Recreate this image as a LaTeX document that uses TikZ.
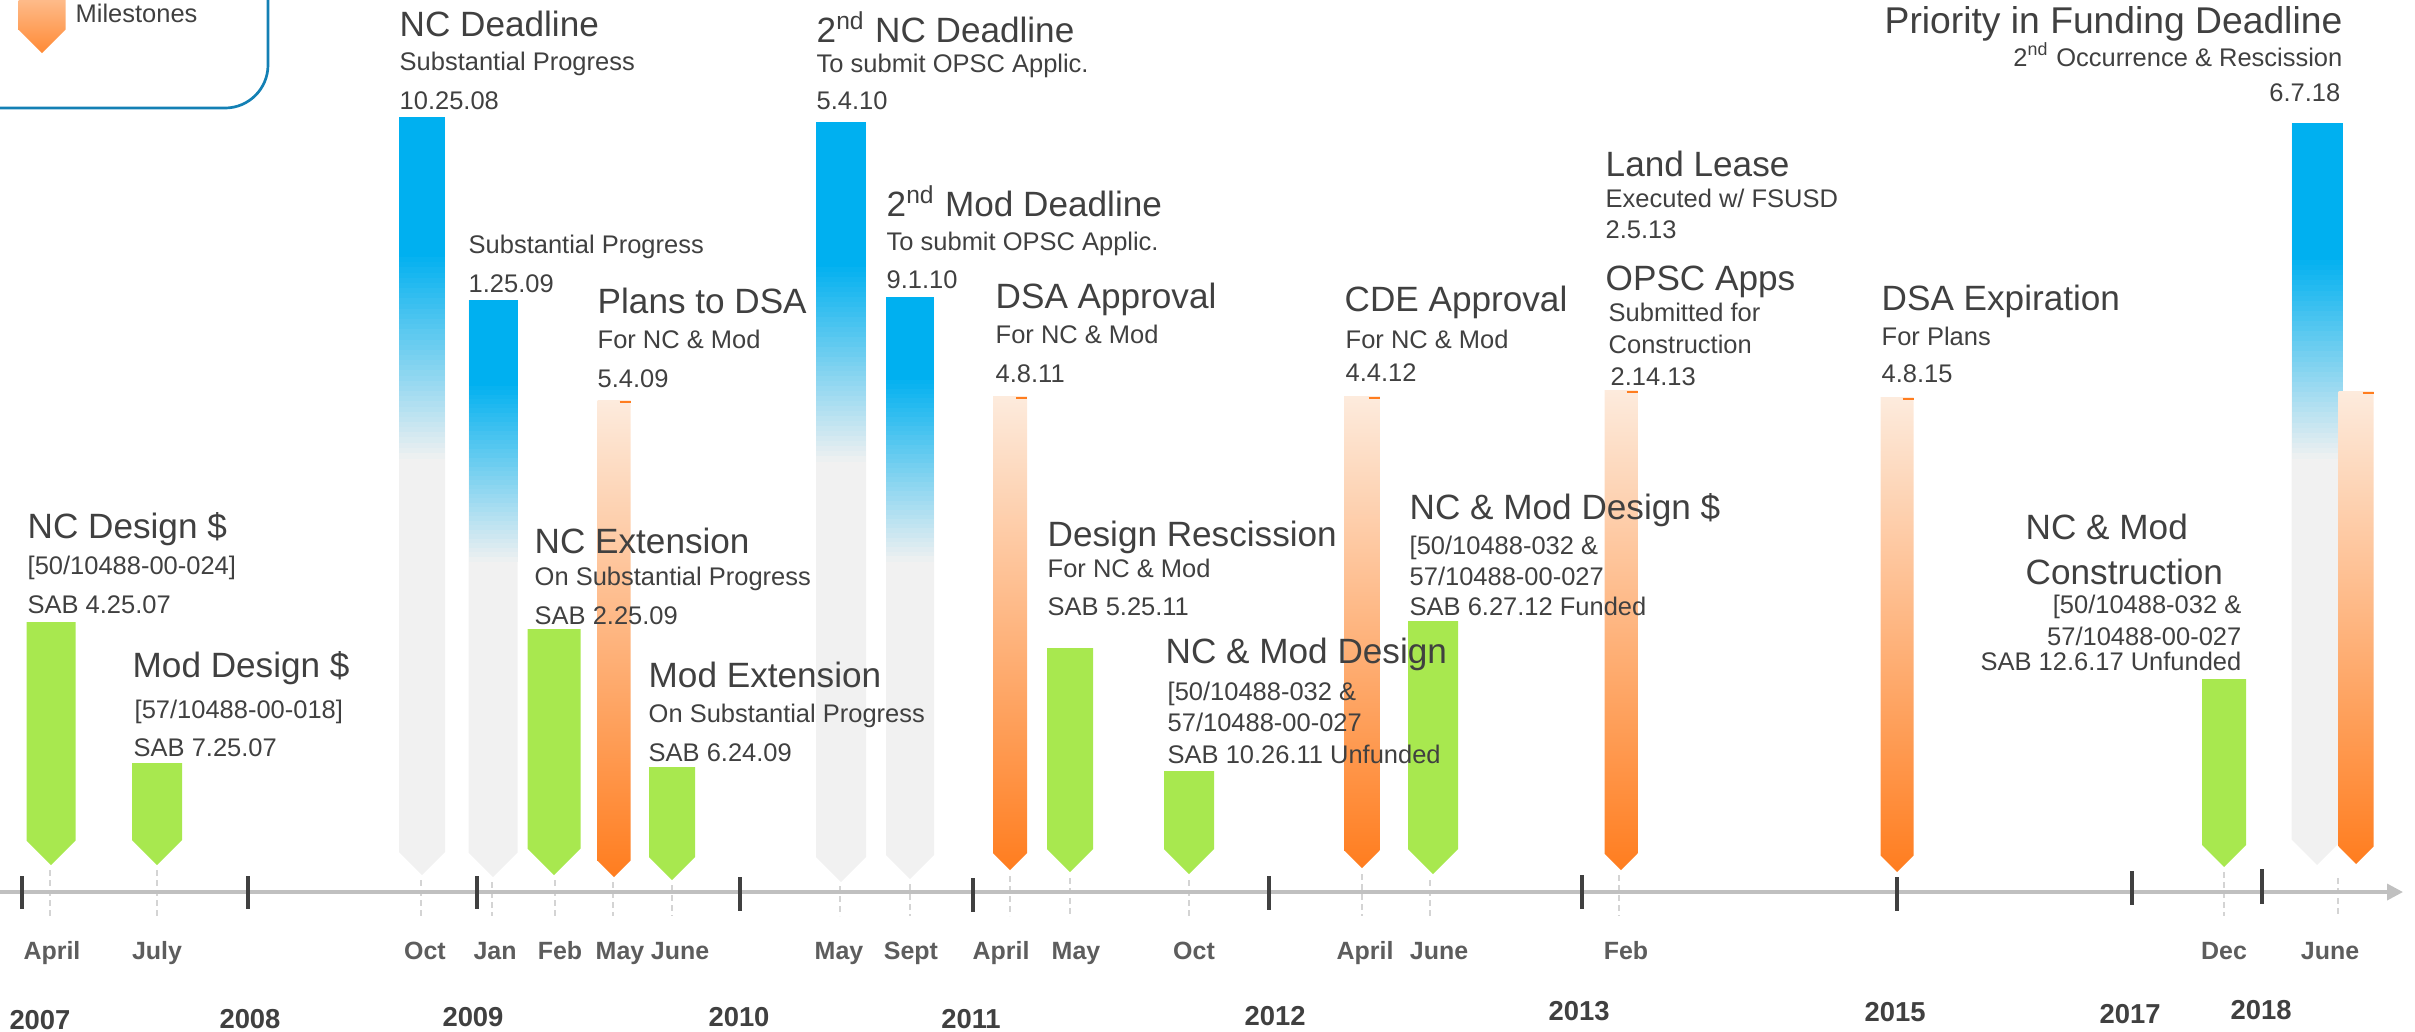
\documentclass[tikz,border=0pt]{standalone}
\usepackage{fontspec}
\setmainfont{Liberation Sans}
\usetikzlibrary{arrows.meta}

\definecolor{txt}{HTML}{404040}
\definecolor{mgreen}{HTML}{A8E84F}
\definecolor{mblue}{HTML}{00B0F0}
\definecolor{mgray}{HTML}{F1F1F1}
\definecolor{mpeach}{HTML}{FDEBDD}
\definecolor{morange}{HTML}{FF7D1F}
\definecolor{axisgray}{HTML}{C0C0C0}
\definecolor{dashgray}{HTML}{D4D4D4}
\definecolor{legblue}{HTML}{1380B4}

\tikzset{
	head/.style={anchor=base west,inner sep=0pt,text=txt,font=\fontsize{10}{12}\selectfont},
	info/.style={anchor=base west,inner sep=0pt,text=txt,font=\fontsize{7.25}{9}\selectfont},
	month/.style={anchor=base,inner sep=0pt,text=txt!85,font=\bfseries\fontsize{7.1}{9}\selectfont},
	yearlabel/.style={anchor=base,inner sep=0pt,text=txt,font=\bfseries\fontsize{7.8}{9}\selectfont},
	guide/.style={dashgray,line width=0.15mm,dash pattern=on 0.6mm off 0.4mm},
	timeline/.style={axisgray,line width=0.35mm,-{Triangle[length=1.6mm,width=1.6mm]}},
	yeartick/.style={txt,line width=0.4mm},
}

% pin: centre, half width, top, tip
\newcommand{\greenpin}[4]{%
	\fill[mgreen] (#1-#2,#3) -- (#1+#2,#3) -- (#1+#2,#4-#2) -- (#1,#4) -- (#1-#2,#4-#2) -- cycle;}
\newcommand{\orangepin}[4]{%
	\shade[top color=mpeach,bottom color=morange] (#1-#2,#3) -- (#1+#2,#3) -- (#1+#2,#4-#2) -- (#1,#4) -- (#1-#2,#4-#2) -- cycle;
	\draw[morange,line width=0.15mm] (#1+#2-11,#3+2) -- (#1+#2,#3+2);}
% deadline pin: centre, half width, top, tip, end of blue, start of gray
\newcommand{\bluepin}[6]{%
	\fill[mgray] (#1-#2,#3) -- (#1+#2,#3) -- (#1+#2,#4-#2) -- (#1,#4) -- (#1-#2,#4-#2) -- cycle;
	\fill[mblue] (#1-#2,#3) rectangle (#1+#2,#5+1);
	\foreach \k in {0,...,39}{
		\pgfmathtruncatemacro{\mix}{100-2.5*\k}
		\fill[mblue!\mix!mgray] (#1-#2,{#5+(#6-#5)*\k/40}) rectangle (#1+#2,{#5+(#6-#5)*(\k+1)/40+1});
	}}

\begin{document}
\begin{tikzpicture}[x=0.1mm,y=-0.1mm]
	\useasboundingbox (0,0) rectangle (2415,1031);
	\clip (0,0) rectangle (2415,1031);

	% legend
	\draw[legblue,line width=0.27mm,rounded corners=4.3mm] (-100,-100) rectangle (268,108);
	\shade[top color=mpeach!60!morange,bottom color=morange!90] (18.5,-5) -- (65.5,-5) -- (65.5,29.5) -- (42,53) -- (18.5,29.5) -- cycle;
	\node[info] (legend) at (75,22) {Milestones};

	% guides below the pins
	\foreach \x/\t in {50/870,157/870,421/880,492/882,555/880,613/882,672/885,840/886,910/884,1010/876,1070/878,1189/880,1362/874,1430/880,1619/875,2224/872,2338/878}
		\draw[guide] (\x,\t) -- (\x,916);

	% deadlines
	\bluepin{422}{23}{117}{875}{252}{458}
	\bluepin{493}{24.5}{300}{877}{381}{561}
	\bluepin{841}{25}{122}{882}{262}{461}
	\bluepin{910}{24}{297}{879}{375}{561}
	\bluepin{2317}{25.5}{123}{865}{255}{458}

	% milestones
	\orangepin{614}{16.5}{400}{877}
	\orangepin{1010}{17}{396}{870}
	\orangepin{1362}{17.5}{396}{868}
	\orangepin{1621}{16.5}{390}{870}
	\orangepin{1897}{16.5}{397}{872}
	\orangepin{2356}{17.5}{391}{864}

	% funding
	\greenpin{51}{24.5}{622}{865}
	\greenpin{157}{25}{763}{865}
	\greenpin{554}{26.5}{629}{875}
	\greenpin{672}{23}{767}{880}
	\greenpin{1070}{23}{648}{872}
	\greenpin{1189}{25}{771}{874}
	\greenpin{1433}{25}{621}{874}
	\greenpin{2224}{22}{679}{867}

	% time axis
	\coordinate (t0) at (0,892);
	\coordinate (tend) at (2403,892);
	\draw[timeline] (t0) -- (tend);
	\foreach \x/\a/\b in {22/876/909,248/876/909,477/876/909,740/877/911,973/878/912,1269/876/910,1582/875/909,1897/877/911,2132/871/905,2262/869/904}
		\draw[yeartick] (\x,\a) -- (\x,\b);

	\foreach \x/\m in {52/April,157/July,425/Oct,495/Jan,560/Feb,620/May,680/June,839/May,911/Sept,1001/April,1076/May,1194/Oct,1365/April,1439/June,1626/Feb,2224/Dec,2330/June}
		\node[month] (m-\x) at (\x,959) {\m};
	\foreach \x/\b/\yr in {40/1029/2007,250/1028/2008,473/1026/2009,739/1026/2010,971/1028/2011,1275/1025/2012,1579/1020/2013,1895/1021/2015,2130/1023/2017,2261/1019/2018}
		\node[yearlabel] (y-\yr) at (\x,\b) {\yr};

	% labels
	\node[head] (ncdl) at (399,36) {NC Deadline};
	\node[info] (ncdl-why) at (399,70) {Substantial Progress};
	\node[info] (ncdl-date) at (399,109) {10.25.08};

	\node[info] (ncsp-why) at (468,253) {Substantial Progress};
	\node[info] (ncsp-date) at (468,292) {1.25.09};

	\node[head] (plans) at (597,313) {Plans to DSA};
	\node[info] (plans-why) at (597,348) {For NC \& Mod};
	\node[info] (plans-date) at (597,387) {5.4.09};

	\node[head] (ncdes) at (27,538) {NC Design \$};
	\node[info] (ncdes-no) at (27,574) {[50/10488-00-024]};
	\node[info] (ncdes-sab) at (27,613) {SAB 4.25.07};

	\node[head] (moddes) at (132,677) {Mod Design \$};
	\node[info] (moddes-no) at (134,718) {[57/10488-00-018]};
	\node[info] (moddes-sab) at (133,756) {SAB 7.25.07};

	\node[head] (ncext) at (534,553) {NC Extension};
	\node[info] (ncext-why) at (534,585) {On Substantial Progress};
	\node[info] (ncext-sab) at (534,624) {SAB 2.25.09};

	\node[head] (modext) at (648,687) {Mod Extension};
	\node[info] (modext-why) at (648,722) {On Substantial Progress};
	\node[info] (modext-sab) at (648,761) {SAB 6.24.09};

	\node[head] (ncdl2) at (816,42) {2\textsuperscript{nd} NC Deadline};
	\node[info] (ncdl2-why) at (816,72) {To submit OPSC Applic.};
	\node[info] (ncdl2-date) at (816,109) {5.4.10};

	\node[head] (moddl2) at (886,216) {2\textsuperscript{nd} Mod Deadline};
	\node[info] (moddl2-why) at (886,250) {To submit OPSC Applic.};
	\node[info] (moddl2-date) at (886,288) {9.1.10};

	\node[head] (dsa) at (995,308) {DSA Approval};
	\node[info] (dsa-why) at (995,343) {For NC \& Mod};
	\node[info] (dsa-date) at (995,382) {4.8.11};

	\node[head] (resc) at (1047,546) {Design Rescission};
	\node[info] (resc-why) at (1047,577) {For NC \& Mod};
	\node[info] (resc-sab) at (1047,615) {SAB 5.25.11};

	\node[head] (both) at (1165,663) {NC \& Mod Design};
	\node[info] (both-no1) at (1167,700) {[50/10488-032 \&};
	\node[info] (both-no2) at (1167,731) {57/10488-00-027};
	\node[info] (both-sab) at (1167,763) {SAB 10.26.11 Unfunded};

	\node[head] (cde) at (1344,311) {CDE Approval};
	\node[info] (cde-why) at (1345,348) {For NC \& Mod};
	\node[info] (cde-date) at (1345,381) {4.4.12};

	\node[head] (both2) at (1409,519) {NC \& Mod Design \$};
	\node[info] (both2-no1) at (1409,554) {[50/10488-032 \&};
	\node[info] (both2-no2) at (1409,585) {57/10488-00-027};
	\node[info] (both2-sab) at (1409,615) {SAB 6.27.12 Funded};

	\node[head] (lease) at (1605,176) {Land Lease};
	\node[info] (lease-why) at (1605,207) {Executed w/ FSUSD};
	\node[info] (lease-date) at (1605,238) {2.5.13};

	\node[head] (opsc) at (1605,290) {OPSC Apps};
	\node[info] (opsc-why1) at (1608,321) {Submitted for};
	\node[info] (opsc-why2) at (1608,353) {Construction};
	\node[info] (opsc-date) at (1610,385) {2.14.13};

	\node[head] (expiry) at (1881,310) {DSA Expiration};
	\node[info] (expiry-why) at (1881,345) {For Plans};
	\node[info] (expiry-date) at (1881,382) {4.8.15};

	\node[head] (constr1) at (2025,539) {NC \& Mod};
	\node[head] (constr2) at (2025,584) {Construction};
	\node[info,anchor=base east] (constr-no1) at (2242,613) {[50/10488-032 \&};
	\node[info,anchor=base east] (constr-no2) at (2242,645) {57/10488-00-027};
	\node[info,anchor=base east] (constr-sab) at (2242,670) {SAB 12.6.17 Unfunded};

	\node[head,anchor=base east,font=\fontsize{10.6}{12}\selectfont] (pif) at (2343,33) {Priority in Funding Deadline};
	\node[info,anchor=base east] (pif-why) at (2343,66) {2\textsuperscript{nd} Occurrence \& Rescission};
	\node[info,anchor=base east] (pif-date) at (2341,101) {6.7.18};
\end{tikzpicture}
\end{document}
